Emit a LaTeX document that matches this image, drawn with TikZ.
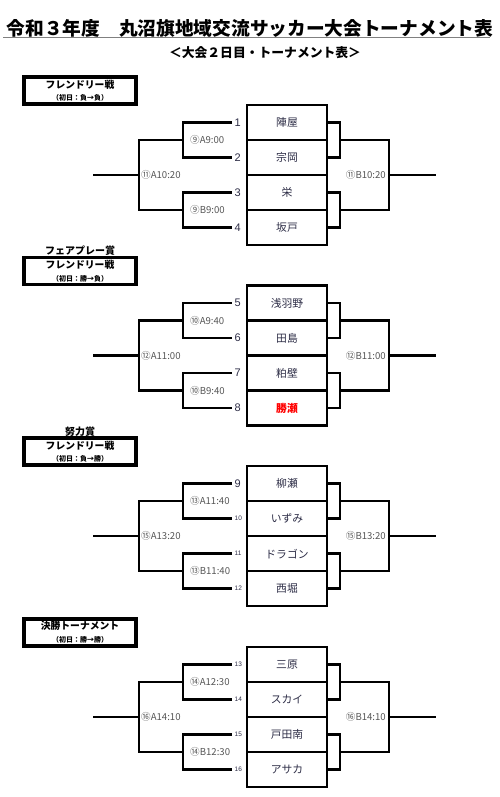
\documentclass[tikz,border=0pt]{standalone}
\usepackage{fontspec}
\setmainfont{Liberation Sans}
\newfontfamily\jp{Noto Sans CJK JP}
\usetikzlibrary{positioning}
\definecolor{teamtxt}{RGB}{45, 45, 70}
\definecolor{slotgray}{RGB}{85, 85, 85}
\newcommand\redteam[1]{\textcolor{red}{\bfseries #1}}

\begin{document}
\begin{tikzpicture}[x=1pt, y=-1pt,
  team/.style={draw, line width=2.5pt, minimum width=80pt, minimum height=35pt, inner sep=0pt, font=\jp\fontsize{10.8}{12}\selectfont, text=teamtxt},
  seed/.style={anchor=west, inner sep=2.5pt, text=teamtxt},
  slot/.style={inner sep=1pt, font=\jp\fontsize{9.6}{11}\selectfont, text=slotgray},
  hdr/.style={draw, line width=3.5pt, minimum width=112pt, minimum height=27pt, inner sep=0pt, align=center, font=\jp\bfseries\fontsize{9.8}{11}\selectfont},
  award/.style={inner sep=0pt, font=\jp\bfseries\fontsize{10}{11}\selectfont},
  wire/.style={line width=2.5pt}
]
  \useasboundingbox (0,0) rectangle (500,797);

  \node[font=\jp\bfseries\fontsize{18.7}{20}\selectfont] (title) at (250, 28) {令和３年度　丸沼旗地域交流サッカー大会トーナメント表};
  \draw[gray, line width=1.5pt] (3, 37.5) -- (490, 37.5);
  \node[font=\jp\bfseries\fontsize{12.8}{14}\selectfont] (subtitle) at (265, 53) {＜大会２日目・トーナメント表＞};

  \foreach \s/\hd/\rec/\ta/\tb/\tc/\td/\pa/\pb/\ma/\mb in {
    0/フレンドリー戦/負→負/陣屋/宗岡/栄/坂戸/⑨A9:00/⑨B9:00/⑪A10:20/⑪B10:20,
    1/フレンドリー戦/勝→負/浅羽野/田島/粕壁/\redteam{勝瀬}/⑩A9:40/⑩B9:40/⑫A11:00/⑫B11:00,
    2/フレンドリー戦/負→勝/柳瀬/いずみ/ドラゴン/西堀/⑬A11:40/⑬B11:40/⑮A13:20/⑮B13:20,
    3/決勝トーナメント/勝→勝/三原/スカイ/戸田南/アサカ/⑭A12:30/⑭B12:30/⑯A14:10/⑯B14:10} {
    \pgfmathsetmacro\T{105+180.6*\s}
    \node[hdr] (h\s) at (80, \T-14.5) {\hd\\[1.5pt]{\fontsize{7}{8}\selectfont（初日：\rec）}};

    % teams and seed numbers
    \foreach \r/\t in {1/\ta, 2/\tb, 3/\tc, 4/\td} {
      \pgfmathtruncatemacro\n{4*\s+\r}
      \node[team] (t\s\r) at (287, \T+35*\r-17.5) {\t};
      \node[seed] (n\s\r) at (232, \T+35*\r-17.5)
        {\ifnum\n<10 \fontsize{11}{12}\else\fontsize{6.5}{7}\fi\selectfont\n};
    }

    \coordinate (la\s) at (183, \T+35);
    \coordinate (lb\s) at (183, \T+105);
    \coordinate (lm\s) at (139, \T+70);
    \coordinate (ls\s) at (93, \T+70);
    \coordinate (ra\s) at (340, \T+35);
    \coordinate (rb\s) at (340, \T+105);
    \coordinate (rm\s) at (389, \T+70);
    \coordinate (rs\s) at (436, \T+70);

    % left bracket
    \draw[wire] (n\s1.west) -| (la\s) |- (n\s2.west);
    \draw[wire] (n\s3.west) -| (lb\s) |- (n\s4.west);
    \draw[wire] (la\s) -| (lm\s) |- (lb\s);
    \draw[wire] (lm\s) -- (ls\s);
    % right bracket
    \draw[wire] (t\s1.east) -| (ra\s) |- (t\s2.east);
    \draw[wire] (t\s3.east) -| (rb\s) |- (t\s4.east);
    \draw[wire] (ra\s) -| (rm\s) |- (rb\s);
    \draw[wire] (rm\s) -- (rs\s);

    \node[slot, anchor=west] (pa\s) at ([xshift=6pt]la\s) {\pa};
    \node[slot, anchor=west] (pb\s) at ([xshift=6pt]lb\s) {\pb};
    \node[slot, anchor=west] (ma\s) at ([xshift=1pt]lm\s) {\ma};
    \node[slot, anchor=east] (mb\s) at ([xshift=-2pt]rm\s) {\mb};
  }

  \node[award, above=0pt of h1] (fair) {フェアプレー賞};
  \node[award, above=0pt of h2] (effort) {努力賞};
\end{tikzpicture}
\end{document}
